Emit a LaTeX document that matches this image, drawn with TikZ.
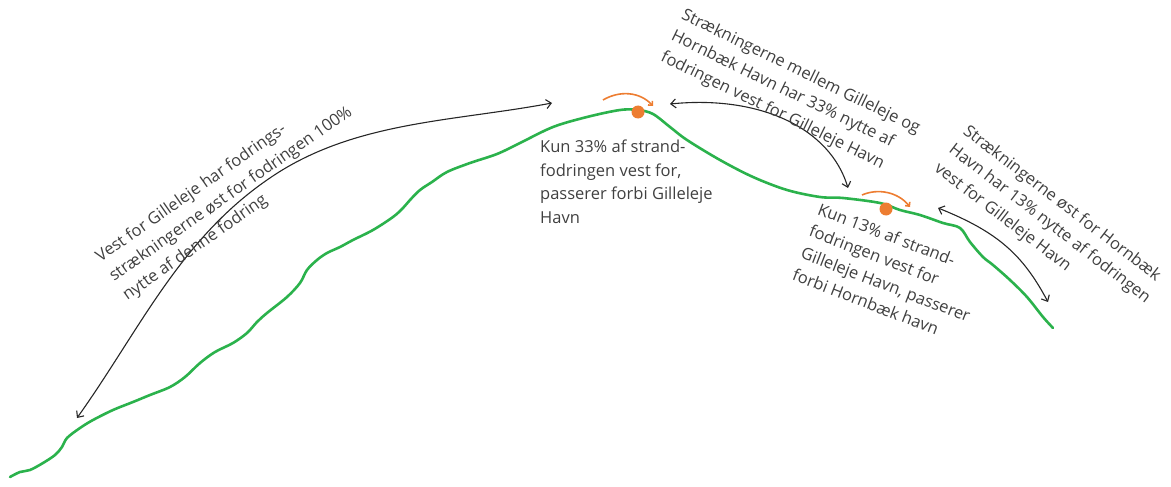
\documentclass[tikz,border=0pt]{standalone}
\usepackage{fontspec}
\setmainfont{Open Sans}
\usetikzlibrary{arrows.meta}
\definecolor{kyst}{HTML}{2BB24C}
\definecolor{sand}{HTML}{ED7D31}
\definecolor{tekst}{HTML}{404040}

\begin{document}
\begin{tikzpicture}[x=1pt, y=-1pt, >={Straight Barb[length=5pt,width=9pt]},
    every node/.style={font=\fontsize{16.5}{23.5}\selectfont, text=tekst, inner sep=0pt, align=left},
    pil/.style={<->, line width=1.1pt, draw=black!85},
    flow/.style={->, line width=1.6pt, draw=sand, >={Straight Barb[length=3pt,width=6pt]}}]
    \useasboundingbox (0,0) rectangle (1171,487);

    % 1. kystlinjen
    \draw[kyst, line width=2.6pt, line cap=round, line join=round] plot[smooth, tension=0.55] coordinates {
        (10,477) (20,472) (30,470) (43,463) (55,455) (62,447) (67,438) (80,428) (93,420) (113,410)
        (133,402) (150,395) (170,387) (185,377) (200,363) (215,352) (233,343) (247,333) (257,322)
        (267,313) (287,297) (300,283) (307,270) (317,260) (327,253) (340,247) (353,240) (373,230)
        (393,217) (403,208) (410,200) (420,190) (432,182) (447,172) (470,163) (497,154) (520,143)
        (553,127) (587,117) (620,110) (638,110) (653,114) (670,127) (687,140) (720,160) (753,177)
        (787,190) (820,197) (843,198) (880,203) (900,210) (920,215) (943,223) (960,228) (970,242)
        (983,257) (993,265) (1010,280) (1027,297) (1043,317) (1053,328)};

    % 2. fodringerne
    \fill[sand] (638,112) circle (6.5pt);
    \fill[sand] (886,209) circle (6.5pt);
    \coordinate (g1) at (603,100);
    \coordinate (g2) at (653,106);
    \coordinate (h1) at (862,195);
    \coordinate (h2) at (910,207);
    \draw[flow] (g1) .. controls (620,90) and (640,92) .. (g2);
    \draw[flow] (h1) .. controls (878,188) and (898,192) .. (h2);

    % 3. pile
    \coordinate (a1) at (77,418);
    \coordinate (am) at (267,180);
    \coordinate (a2) at (552,103);
    \coordinate (b1) at (670,104);
    \coordinate (b2) at (848,188);
    \coordinate (c1) at (938,208);
    \coordinate (c2) at (1048,302);
    \draw[pil] (a1) .. controls (139,331) and (179,241) .. (am)
                    .. controls (351,121) and (451,122) .. (a2);
    \draw[pil] (b1) .. controls (760,95) and (830,128) .. (b2);
    \draw[pil] (c1) .. controls (998,232) and (1023,255) .. (c2);

    % 4. tekster
    \node[rotate=35, anchor=north west] (vest) at (93,252)
        {Vest for Gilleleje har fodrings-\\strækningerne øst for fodringen 100\%\\nytte af denne fodring};
    \node[anchor=north west] (gilleleje) at (540,140)
        {Kun 33\% af strand-\\fodringen vest for,\\passerer forbi Gilleleje\\Havn};
    \node[rotate=-26, anchor=north west] (mellem) at (686,7)
        {Strækningerne mellem Gilleleje og\\Hornbæk Havn har 33\% nytte af\\fodringen vest for Gilleleje Havn};
    \node[rotate=-21, anchor=north west] (hornbaek) at (821,202)
        {Kun 13\% af strand-\\fodringen vest for\\Gilleleje Havn, passerer\\forbi Hornbæk havn};
    \node[rotate=-37.5, anchor=north west] (oest) at (970,123)
        {Strækningerne øst for Hornbæk\\Havn har 13\% nytte af fodringen\\vest for Gilleleje Havn};
\end{tikzpicture}
\end{document}
